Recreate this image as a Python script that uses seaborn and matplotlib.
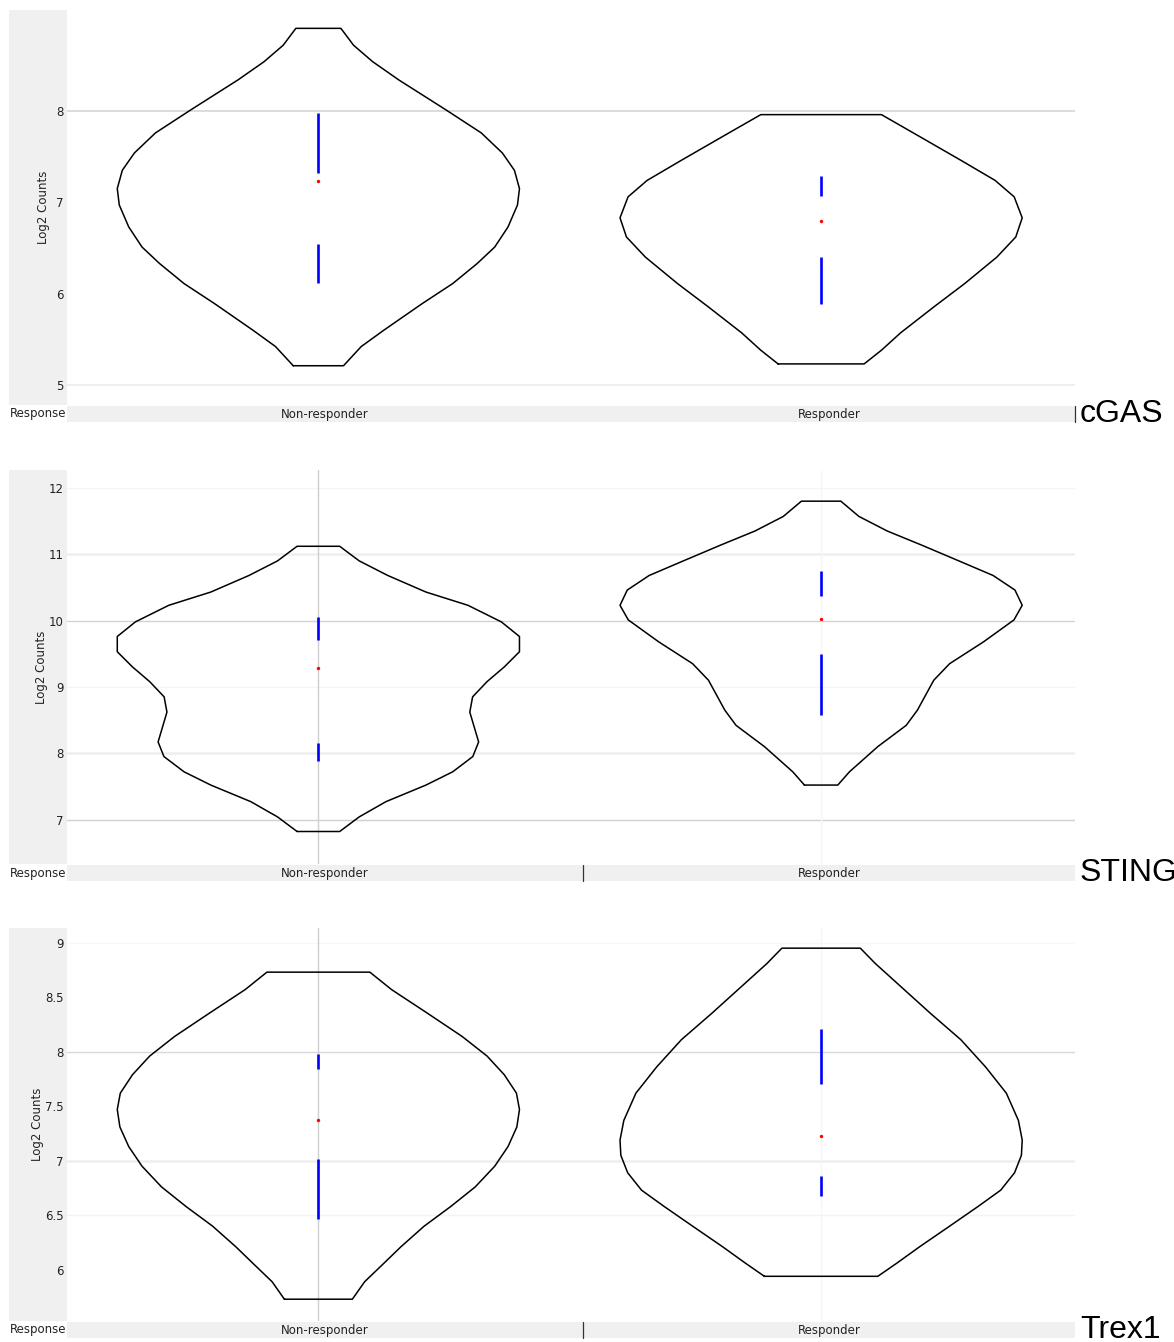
import numpy as np
import pandas as pd
import matplotlib
matplotlib.use("Agg")
import matplotlib.pyplot as plt
import seaborn as sns

sns.set_style("white")
plt.rcParams['font.family'] = ['DejaVu Sans']

groups = ['Non-responder', 'Responder']
genes = ['cGAS', 'STING', 'Trex1']

# violin outlines: value (bottom -> top) and relative half width
cgas_nr_y = [5.21, 5.42, 5.60, 5.89, 6.11, 6.33, 6.51, 6.73, 6.97, 7.15, 7.35, 7.54, 7.76, 8.01, 8.34, 8.54, 8.72, 8.905]
cgas_nr_w = [0.125, 0.213, 0.326, 0.516, 0.668, 0.79, 0.877, 0.943, 0.99, 1.0, 0.975, 0.915, 0.81, 0.636, 0.40, 0.27, 0.175, 0.112]
cgas_r_y = [5.23, 5.38, 5.57, 5.86, 6.11, 6.40, 6.62, 6.83, 7.06, 7.24, 7.46, 7.72, 7.96]
cgas_r_w = [0.214, 0.30, 0.395, 0.564, 0.714, 0.874, 0.968, 1.0, 0.96, 0.865, 0.695, 0.49, 0.30]

sting_nr_y = [6.82, 7.04, 7.27, 7.52, 7.72, 7.95, 8.17, 8.62, 8.85, 9.08, 9.30, 9.53, 9.76, 9.98, 10.23, 10.43, 10.68, 10.90, 11.12]
sting_nr_w = [0.106, 0.203, 0.336, 0.535, 0.668, 0.768, 0.797, 0.753, 0.767, 0.839, 0.924, 1.0, 1.0, 0.91, 0.744, 0.535, 0.345, 0.203, 0.106]
sting_r_y = [7.52, 7.72, 8.10, 8.42, 8.65, 9.10, 9.35, 9.68, 10.01, 10.23, 10.46, 10.68, 10.91, 11.14, 11.35, 11.57, 11.80]
sting_r_w = [0.083, 0.141, 0.282, 0.423, 0.479, 0.56, 0.639, 0.808, 0.959, 1.0, 0.964, 0.855, 0.677, 0.498, 0.329, 0.188, 0.098]

trex_nr_y = [5.73, 5.89, 6.06, 6.21, 6.40, 6.58, 6.76, 6.95, 7.13, 7.31, 7.47, 7.62, 7.79, 7.96, 8.14, 8.35, 8.57, 8.73]
trex_nr_w = [0.169, 0.23, 0.326, 0.41, 0.526, 0.658, 0.78, 0.877, 0.943, 0.987, 1.0, 0.985, 0.924, 0.839, 0.715, 0.545, 0.364, 0.256]
trex_r_y = [5.94, 6.06, 6.21, 6.40, 6.58, 6.73, 6.89, 7.05, 7.19, 7.37, 7.62, 7.86, 8.11, 8.35, 8.60, 8.81, 8.95]
trex_r_w = [0.282, 0.376, 0.489, 0.639, 0.78, 0.893, 0.962, 0.996, 1.0, 0.981, 0.921, 0.818, 0.695, 0.545, 0.395, 0.269, 0.195]

# blue segments (upper lo, upper hi, lower lo, lower hi) and red median dot
cgas_bars = [(7.32, 7.98, 6.12, 6.54), (7.07, 7.29, 5.89, 6.40)]
cgas_med = [7.23, 6.79]
sting_bars = [(9.71, 10.06, 7.88, 8.16), (10.37, 10.74, 8.57, 9.49)]
sting_med = [9.28, 10.03]
trex_bars = [(7.84, 7.98, 6.47, 7.02), (7.70, 8.21, 6.68, 6.86)]
trex_med = [7.37, 7.23]

cgas_ticks = [5, 6, 7, 8]
sting_ticks = [7, 8, 9, 10, 11, 12]
trex_ticks = [6, 6.5, 7, 7.5, 8, 8.5, 9]

panels = [
    dict(gene='cGAS', outl=[(cgas_nr_y, cgas_nr_w), (cgas_r_y, cgas_r_w)], bars=cgas_bars, med=cgas_med,
         ticks=cgas_ticks, ylim=(4.78, 9.106), top=10, bot=405, lab=50,
         grid={5: ('#ececec', 1.2), 8: ('#d6d6d6', 1.2)}, vgrid=False, sep=1.0),
    dict(gene='STING', outl=[(sting_nr_y, sting_nr_w), (sting_r_y, sting_r_w)], bars=sting_bars, med=sting_med,
         ticks=sting_ticks, ylim=(6.33, 12.27), top=470, bot=864, lab=48,
         grid={7: ('#d0d0d0', 1.0), 8: ('#eeeeee', 1.8), 9: ('#f5f5f5', 1.0), 10: ('#d2d2d2', 1.0),
               11: ('#eeeeee', 1.8), 12: ('#f5f5f5', 1.0)}, vgrid=True, sep=0.512),
    dict(gene='Trex1', outl=[(trex_nr_y, trex_nr_w), (trex_r_y, trex_r_w)], bars=trex_bars, med=trex_med,
         ticks=trex_ticks, ylim=(5.53, 9.135), top=928, bot=1321, lab=44,
         grid={6.5: ('#f3f3f3', 1.0), 7: ('#eeeeee', 1.8), 8: ('#d8d8d8', 1.0), 9: ('#f7f7f7', 1.0)},
         vgrid=True, sep=0.512),
]

W, H = 1174, 1342
fig = plt.figure(figsize=(W / 100, H / 100), dpi=100)
x0, x1 = 67, 1075
half = 0.4
txt = '#222222'

for p in panels:
    h = (p['bot'] - p['top']) / H
    # gray column at left
    gc = fig.add_axes([9 / W, 1 - p['bot'] / H, (x0 - 9) / W, h])
    gc.set_facecolor('#f0f0f0')
    gc.set_xticks([])
    gc.set_yticks([])
    for s in gc.spines.values():
        s.set_visible(False)

    ax = fig.add_axes([x0 / W, 1 - p['bot'] / H, (x1 - x0) / W, h])
    ax.set_facecolor('white')
    for v, (c, w) in p['grid'].items():
        ax.axhline(v, color=c, lw=w, zorder=0)
    if p['vgrid']:
        ax.axvline(0, color='#cfcfcf', lw=1, zorder=0)
        ax.axvline(1, color='#f6f6f6', lw=1, zorder=0)
    for i, (ys, ws) in enumerate(p['outl']):
        ys = np.array(ys)
        ws = np.array(ws) * half
        xs = np.concatenate([i - ws, (i + ws)[::-1], [i - ws[0]]])
        yy = np.concatenate([ys, ys[::-1], [ys[0]]])
        d = pd.DataFrame({'x': xs, 'y': yy})
        sns.lineplot(data=d, x='x', y='y', estimator=None, sort=False, color='black', lw=1.1, ax=ax)
        ulo, uhi, llo, lhi = p['bars'][i]
        ax.vlines([i, i], [ulo, llo], [uhi, lhi], color='#0000ff', lw=1.9, zorder=3)
        sns.scatterplot(x=[i], y=[p['med'][i]], color='red', s=6, linewidth=0, ax=ax, zorder=4)
    ax.set_xlim(-0.5, 1.505)
    ax.set_ylim(*p['ylim'])
    ax.set_yticks(p['ticks'])
    ax.set_yticklabels([f'{t:g}' for t in p['ticks']], fontsize=8.5, color=txt)
    ax.tick_params(axis='y', length=0, pad=2.5)
    ax.set_xticks([])
    ax.set_xlabel('')
    ax.set_ylabel('Log2 Counts', fontsize=8.5, color=txt)
    ax.yaxis.set_label_coords((p['lab'] - x0) / (x1 - x0), 0.5)
    for s in ax.spines.values():
        s.set_visible(False)

    # category strip below
    st = fig.add_axes([x0 / W, 1 - (p['bot'] + 17) / H, (x1 - x0) / W, 16 / H])
    st.set_facecolor('#f0f0f0')
    st.set_xlim(0, 1)
    st.set_ylim(0, 1)
    st.set_xticks([])
    st.set_yticks([])
    for s in st.spines.values():
        s.set_visible(False)
    st.text(0.256, 0.45, groups[0], ha='center', va='center', fontsize=8.5, color=txt)
    st.text(0.756, 0.45, groups[1], ha='center', va='center', fontsize=8.5, color=txt)
    st.plot([p['sep'], p['sep']], [0, 1], color='#333333', lw=0.9, clip_on=False)
    fig.text(10 / W, 1 - (p['bot'] + 9) / H, 'Response', ha='left', va='center', fontsize=8.5, color=txt)
    fig.text(1080 / W, 1 - (p['bot'] + 17) / H, p['gene'], ha='left', va='baseline', fontsize=23,
             family=['Liberation Sans', 'DejaVu Sans'], color='black')

fig.savefig('out.png', dpi=100)
